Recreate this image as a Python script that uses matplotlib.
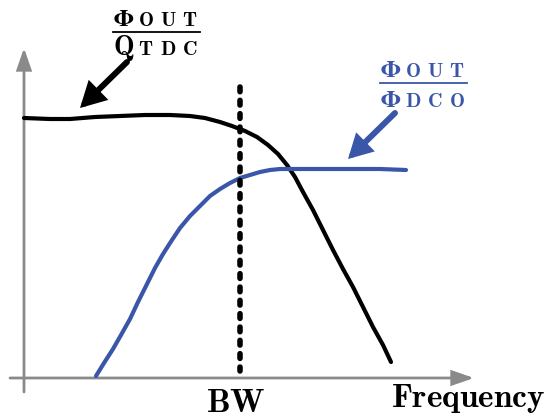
import numpy as np
import matplotlib.pyplot as plt
from matplotlib.patches import FancyArrowPatch

plt.rcParams['mathtext.fontset'] = 'cm'

# curve samples (x: frequency, y: magnitude, pixel-like units, y down)
tdc_x = [24, 50, 70, 95, 120, 145, 170, 190, 205, 220, 232, 245, 257, 268, 278,
         287, 295, 303, 313, 323, 333, 343, 353, 363, 373, 383, 391]
tdc_y = [118, 119, 119, 117, 116, 115, 115, 116, 118, 122, 126, 131, 137, 145, 154,
         165, 177, 192, 210, 230, 250, 269, 287, 307, 327, 345, 362]

dco_x = [96, 104, 113, 121, 130, 138, 147, 155, 163, 172, 180, 190, 200, 210, 220,
         230, 240, 250, 260, 270, 280, 300, 330, 360, 380, 406]
dco_y = [376, 363, 349, 335, 319, 302, 284, 268, 254, 240, 228, 216, 206, 196, 189,
         183, 178, 175, 172, 170, 169, 169, 169, 169, 169, 170]

bw_x = 240
bw_y = [87, 371]

BLACK = '#000000'
BLUE = '#3a56a8'
GRAY = '#8a8a8a'

fig = plt.figure(figsize=(5.49, 4.20), dpi=100)
ax = fig.add_axes([0, 0, 1, 1])
ax.set_xlim(0, 549)
ax.set_ylim(420, 0)
ax.axis('off')


def arrow(start, end, color, lw, hl, hw):
    ax.add_patch(FancyArrowPatch(start, end, color=color, lw=lw, mutation_scale=1,
                                 shrinkA=0, shrinkB=0, joinstyle='miter',
                                 arrowstyle='-|>,head_length=%g,head_width=%g' % (hl, hw)))


def small_caps_frac(x, y_top, y_bot, top, bottom, color):
    # big letter followed by wide small caps, like the original drawing
    x0, x1 = x
    for base_y, (big, small) in [(y_top, top), (y_bot, bottom)]:
        if big == r'\Phi':
            ax.text(x0 + 11, base_y, r'$\mathbf{\Phi}$', fontsize=17, color=color,
                    ha='center', va='baseline', math_fontfamily='stix')
        else:
            ax.text(x0 + 11, base_y, r'$\mathbf{%s}$' % big, fontsize=20, color=color,
                    ha='center', va='baseline')
        for i, ch in enumerate(small):
            ax.text(x0 + 33 + 22 * i, base_y, r'$\mathbf{%s}$' % ch, fontsize=14.5,
                    color=color, ha='center', va='baseline')
    ax.plot([x0, x1], [(y_top + y_bot) / 2 - 9] * 2, color=color, lw=1.3)


# axes arrows
arrow((10, 378), (474, 378), GRAY, 2, 13, 4.5)
arrow((24, 392), (24, 48), GRAY, 2, 13, 4.5)

ax.plot(tdc_x, tdc_y, color=BLACK, lw=3, solid_capstyle='round', solid_joinstyle='round')
ax.plot(dco_x, dco_y, color=BLUE, lw=3, solid_capstyle='round', solid_joinstyle='round')
ax.plot([bw_x, bw_x], bw_y, color=BLACK, lw=4, linestyle=(0, (0.85, 1.55)),
        dash_capstyle='round')

# pointer arrows
arrow((127, 62), (80, 108), BLACK, 4.3, 12, 6.5)
arrow((395, 113), (348, 159), BLUE, 4.3, 11, 6)

small_caps_frac((113, 200), 26, 55, (r'\Phi', 'OUT'), ('Q', 'TDC'), BLACK)
small_caps_frac((380, 467), 77, 107, (r'\Phi', 'OUT'), (r'\Phi', 'DCO'), BLUE)

ax.text(236, 412, r'$\mathbf{BW}$', fontsize=24, ha='center', va='baseline')
ax.text(468, 407, r'$\mathbf{Frequency}$', fontsize=24, ha='center', va='baseline')

fig.savefig('out.png', dpi=100)
